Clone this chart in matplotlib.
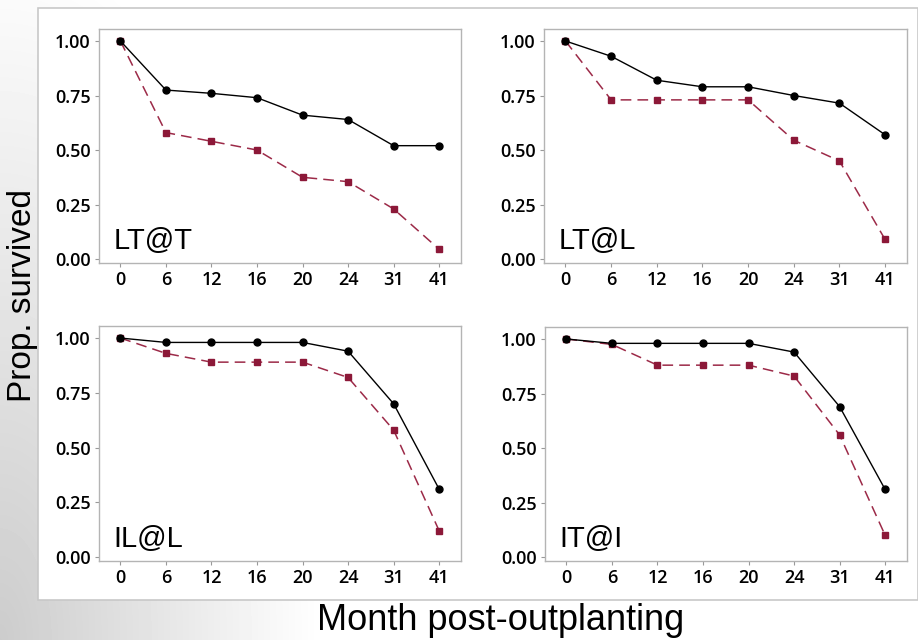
import numpy as np
import matplotlib
matplotlib.use("Agg")
import matplotlib.pyplot as plt
from matplotlib.patches import Rectangle

months = ["0", "6", "12", "16", "20", "24", "31", "41"]
panels = ["LT@T", "LT@L", "IL@L", "IT@I"]

# black solid series (circles)
solid_lt_t = [1.00, 0.775, 0.76, 0.74, 0.66, 0.64, 0.52, 0.52]
solid_lt_l = [1.00, 0.93, 0.82, 0.79, 0.79, 0.75, 0.715, 0.57]
solid_il_l = [1.00, 0.98, 0.98, 0.98, 0.98, 0.94, 0.70, 0.31]
solid_it_i = [1.00, 0.98, 0.98, 0.98, 0.98, 0.94, 0.69, 0.31]

# red dashed series (squares)
dashed_lt_t = [1.00, 0.58, 0.54, 0.50, 0.375, 0.355, 0.23, 0.045]
dashed_lt_l = [1.00, 0.73, 0.73, 0.73, 0.73, 0.545, 0.45, 0.09]
dashed_il_l = [1.00, 0.93, 0.89, 0.89, 0.89, 0.82, 0.58, 0.12]
dashed_it_i = [1.00, 0.975, 0.88, 0.88, 0.88, 0.83, 0.56, 0.10]

solid = [solid_lt_t, solid_lt_l, solid_il_l, solid_it_i]
dashed = [dashed_lt_t, dashed_lt_l, dashed_il_l, dashed_it_i]

W, H = 918, 640
fig = plt.figure(figsize=(W / 100, H / 100), dpi=100)

# soft gray shading toward the lower left
bg = fig.add_axes([0, 0, 1, 1], zorder=-10)
yy, xx = np.mgrid[0:H, 0:W]
d = np.sqrt((xx / 320.0) ** 2 + ((H - yy) / 700.0) ** 2)
shade = np.clip(0.80 + 0.20 * d, 0, 1)
bg.imshow(shade, cmap="gray", vmin=0, vmax=1, aspect="auto",
          extent=[0, W, 0, H], origin="upper")
bg.set_xlim(0, W)
bg.set_ylim(0, H)
bg.axis("off")
bg.add_patch(Rectangle((38, H - 600), 880, 592, facecolor="white",
                       edgecolor="#c8c8c8", linewidth=1.2))

def px(left, top, right, bottom):
    return [left / W, 1 - bottom / H, (right - left) / W, (bottom - top) / H]

boxes = [px(99, 29, 461, 263), px(544, 29, 907, 263),
         px(99, 326, 461, 561), px(545, 327, 907, 561)]

red = "#8c1838"
red_line = "#9c2a48"
x = np.arange(len(months))

for i in range(4):
    ax = fig.add_axes(boxes[i])
    ax.plot(x, dashed[i], color=red_line, ls=(0, (7, 4)), lw=1.1,
            marker="s", ms=5, mfc=red, mec=red, zorder=3)
    ax.plot(x, solid[i], color="black", ls="-", lw=1.0,
            marker="o", ms=5, mfc="black", mec="black", zorder=4)
    ax.set_xlim(-0.47, 7.48)
    ax.set_ylim(-0.018, 1.055)
    ax.set_xticks(x)
    ax.set_xticklabels(months)
    ax.set_yticks([0, 0.25, 0.5, 0.75, 1.0])
    ax.set_yticklabels(["0.00", "0.25", "0.50", "0.75", "1.00"])
    for s in ax.spines.values():
        s.set_color("#b4b4b4")
        s.set_linewidth(1.0)
    ax.tick_params(colors="#999999", length=3, width=0.8,
                   labelcolor="black", labelsize=13, pad=3)
    for lab in ax.get_xticklabels() + ax.get_yticklabels():
        lab.set_family("Open Sans")
        lab.set_fontweight("semibold")
    ax.text(0.04, 0.06, panels[i], transform=ax.transAxes,
            fontsize=21, family="Liberation Sans", color="black")

fig.text(23 / W, 1 - 295 / H, "Prop. survived", rotation=90,
         ha="center", va="center", fontsize=24, family="Liberation Sans")
fig.text(501 / W, 1 - 621 / H, "Month post-outplanting",
         ha="center", va="center", fontsize=26, family="Liberation Sans")

fig.savefig("out.png", dpi=100)
